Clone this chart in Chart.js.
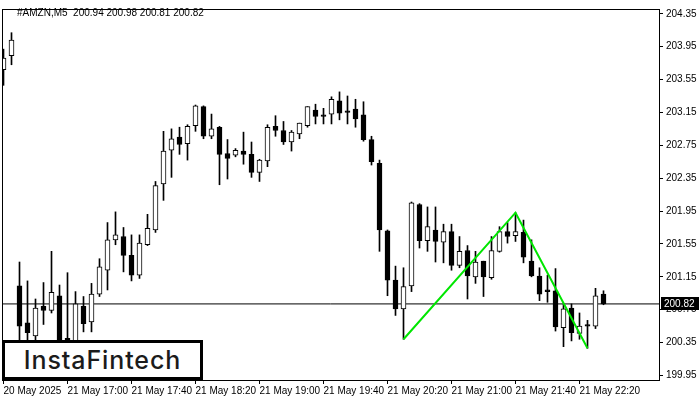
<!DOCTYPE html>
<html>
<head>
<meta charset="utf-8">
<script src="https://cdn.jsdelivr.net/npm/chart.js@4/dist/chart.umd.min.js"></script>
<style>
  body { margin: 0; background: #fff; }
  #wrap { position: relative; width: 700px; height: 400px; }
  #logo {
    position: absolute; left: 2px; top: 340px; width: 201px; height: 40px;
    box-sizing: border-box; border: 3px solid #000; background: #fff;
    font: 500 25px "Inter", sans-serif; color: #1b1b1b;
    text-align: center; line-height: 34px; letter-spacing: 0.9px;
  }
</style>
</head>
<body>
<div id="wrap">
  <canvas id="myChart" width="700" height="400"></canvas>
  <div id="logo">InstaFintech</div>
</div>
<script>
// Données des bougies (#AMZN, M5)
const symbol = "#AMZN,M5";
const opens = [203.67, 203.84, 201.04, 200.59, 200.43, 200.79, 200.74, 200.92, 200.40, 200.28,
  200.79, 200.60, 200.94, 201.23, 201.60, 201.64, 201.41, 201.17, 201.54, 201.72,
  202.28, 202.69, 202.85, 202.77, 202.99, 203.22, 202.86, 202.97, 202.65, 202.63,
  202.68, 202.64, 202.42, 202.56, 202.98, 202.93, 202.79, 202.89, 202.99, 203.18,
  203.12, 203.13, 203.29, 203.17, 203.19, 203.12, 202.82, 202.53, 201.71, 201.11,
  200.76, 201.04, 202.03, 201.59, 201.72, 201.57, 201.70, 201.29, 201.47, 201.15,
  201.34, 201.14, 201.46, 201.70, 201.65, 201.69, 201.34, 201.16, 200.99, 200.98,
  200.53, 200.77, 200.46, 200.57, 200.55, 200.94];
const highs = [203.92, 204.12, 201.33, 201.10, 200.88, 201.08, 201.46, 201.05, 201.20, 200.97,
  200.91, 201.07, 201.37, 201.81, 201.94, 201.75, 201.66, 201.66, 201.91, 202.31,
  202.92, 202.95, 202.97, 203.00, 203.24, 203.23, 203.13, 202.98, 202.82, 202.71,
  202.91, 202.79, 202.58, 203.00, 203.11, 203.04, 202.93, 203.02, 203.22, 203.25,
  203.20, 203.34, 203.40, 203.35, 203.31, 203.28, 202.86, 202.57, 201.72, 201.28,
  201.26, 202.06, 202.04, 202.00, 202.00, 201.79, 201.79, 201.64, 201.53, 201.46,
  201.34, 201.64, 201.76, 201.81, 201.93, 201.84, 201.60, 201.26, 201.17, 201.25,
  200.82, 200.82, 200.71, 200.62, 201.01, 200.98];
const lows = [203.48, 203.73, 200.23, 200.28, 200.31, 200.57, 200.71, 200.16, 200.18, 200.23,
  200.48, 200.48, 200.91, 200.99, 201.54, 201.21, 201.10, 201.13, 201.53, 201.69,
  202.08, 202.36, 202.64, 202.57, 202.92, 202.83, 202.83, 202.27, 202.34, 202.61,
  202.52, 202.36, 202.31, 202.49, 202.86, 202.76, 202.68, 202.83, 202.97, 203.01,
  203.01, 203.01, 203.06, 203.01, 202.97, 202.80, 202.51, 201.46, 200.92, 200.68,
  200.39, 200.97, 201.50, 201.46, 201.33, 201.32, 201.23, 201.26, 200.88, 201.07,
  200.91, 201.12, 201.45, 201.56, 201.58, 201.32, 201.15, 200.86, 200.84, 200.49,
  200.30, 200.37, 200.39, 200.28, 200.52, 200.81];
const closes = [203.81, 204.03, 200.55, 200.47, 200.77, 200.74, 200.96, 200.25, 200.30, 200.82,
  200.58, 200.94, 201.27, 201.60, 201.66, 201.41, 201.17, 201.56, 201.74, 202.26,
  202.68, 202.83, 202.76, 202.98, 203.23, 202.86, 202.95, 202.64, 202.59, 202.69,
  202.64, 202.42, 202.57, 202.97, 202.93, 202.79, 202.91, 203.02, 203.22, 203.10,
  203.10, 203.31, 203.14, 203.15, 203.07, 202.82, 202.55, 201.72, 201.11, 200.76,
  201.03, 202.05, 201.59, 201.76, 201.58, 201.70, 201.29, 201.46, 201.16, 201.33,
  201.15, 201.47, 201.70, 201.64, 201.70, 201.39, 201.16, 200.94, 200.97, 200.54,
  200.76, 200.47, 200.55, 200.55, 200.92, 200.82];

// Axe du temps : une étiquette toutes les 8 bougies
const xTickIdx = [0, 8, 16, 24, 32, 40, 48, 56, 64, 72];
const xLabels = ["20 May 2025", "21 May 17:00", "21 May 17:40", "21 May 18:20", "21 May 19:00",
  "21 May 19:40", "21 May 20:20", "21 May 21:00", "21 May 21:40", "21 May 22:20"];

// Axe des prix
const yTicks = [204.35, 203.95, 203.55, 203.15, 202.75, 202.35, 201.95, 201.55, 201.15, 200.75, 200.35, 199.95];
const yMin = 199.8944;
const yMax = 204.4084;

// Figure "double creux" (ligne verte)
const patternIdx = [50, 64, 73];
const patternPrices = [200.39, 201.93, 200.28];

const lastPrice = closes[closes.length - 1];
const xMin = -0.1875;
const xMax = 81.9375;

// Construction des jeux de données
let bodies = opens.map((o, i) => ({ x: i, y: [o, closes[i]] }));
let wicks = lows.map((l, i) => ({ x: i, y: [l, highs[i]] }));
let bodyColors = opens.map((o, i) => closes[i] >= o ? "#ffffff" : "#000000");
let pattern = patternIdx.map((x, i) => ({ x: x, y: patternPrices[i] }));
let priceLine = [{ x: xMin, y: lastPrice }, { x: xMax, y: lastPrice }];

const axisFont = { family: "Liberation Sans", size: 10 };

// Cadre, en-tête et étiquette du dernier prix
const mtPlugin = {
  id: "mtPlugin",
  afterDraw(chart) {
    const ctx = chart.ctx;
    const a = chart.chartArea;
    ctx.save();
    ctx.strokeStyle = "#000";
    ctx.lineWidth = 1;
    ctx.strokeRect(a.left + 0.5, a.top + 0.5, a.right - a.left, a.bottom - a.top);

    ctx.fillStyle = "#000";
    ctx.font = "10px 'Liberation Sans'";
    ctx.textBaseline = "middle";
    const n = closes.length - 1;
    const head = symbol + "  " + [opens[n], highs[n], lows[n], closes[n]].map(v => v.toFixed(2)).join(" ");
    ctx.fillText(head, 17, 13);

    const y = chart.scales.y.getPixelForValue(lastPrice);
    ctx.fillRect(a.right + 2, Math.round(y) - 7, 38, 13);
    ctx.fillStyle = "#fff";
    ctx.fillText(lastPrice.toFixed(2), a.right + 5, Math.round(y));
    ctx.restore();
  }
};

const ctx = document.getElementById("myChart");
let varChart = new Chart(ctx, {
  data: {
    datasets: [
      {
        type: "line",
        data: priceLine,
        borderColor: "#000",
        borderWidth: 1,
        pointRadius: 0,
        order: 3
      },
      {
        type: "bar",
        data: wicks,
        backgroundColor: "#000",
        borderWidth: 0,
        barThickness: 1,
        grouped: false,
        order: 2
      },
      {
        type: "bar",
        data: bodies,
        backgroundColor: bodyColors,
        borderColor: "#000",
        borderWidth: 1,
        borderSkipped: false,
        barThickness: 5,
        grouped: false,
        order: 1
      },
      {
        type: "line",
        data: pattern,
        borderColor: "#00e600",
        borderWidth: 2,
        pointRadius: 0,
        tension: 0,
        order: 0
      }
    ]
  },
  options: {
    responsive: false,
    animation: false,
    events: [],
    layout: { padding: { left: 2, top: 2, right: 0, bottom: 0 } },
    plugins: { legend: { display: false }, tooltip: { enabled: false } },
    scales: {
      x: {
        type: "linear",
        min: xMin,
        max: xMax,
        offset: false,
        grid: { drawOnChartArea: false, offset: false, tickLength: 4, color: "#000" },
        border: { display: false },
        afterBuildTicks: (scale) => { scale.ticks = xTickIdx.map(v => ({ value: v })); },
        afterFit: (scale) => { scale.height = 20; },
        ticks: {
          autoSkip: false,
          maxRotation: 0,
          minRotation: 0,
          align: "start",
          padding: 1,
          color: "#000",
          font: axisFont,
          callback: (value, index) => xLabels[index]
        }
      },
      y: {
        position: "right",
        min: yMin,
        max: yMax,
        grid: { drawOnChartArea: false, tickLength: 4, color: "#000" },
        border: { display: false },
        afterBuildTicks: (scale) => { scale.ticks = yTicks.map(v => ({ value: v })); },
        afterFit: (scale) => { scale.width = 41; },
        ticks: {
          padding: 3,
          color: "#000",
          font: axisFont,
          callback: (value) => value.toFixed(2)
        }
      }
    }
  },
  plugins: [mtPlugin]
});
</script>
</body>
</html>
